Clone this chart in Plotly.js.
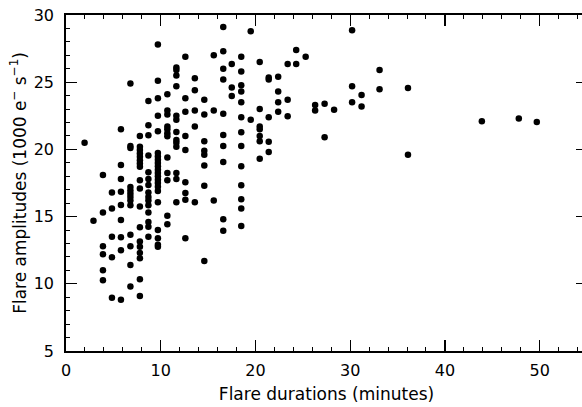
<!DOCTYPE html>
<html>
<head>
<meta charset="utf-8">
<script src="https://cdn.plot.ly/plotly-3.0.1.min.js"></script>
<style>
html, body { margin: 0; padding: 0; overflow: hidden; background: #fff; }
#chart { width: 588px; height: 407px; }
</style>
</head>
<body>
<div id="chart"></div>
<script>
// Flare durations (minutes), grouped by column
const durations = [
  1.96,
  2.9,
  3.9, 3.9, 3.9, 3.9, 3.9, 3.9,
  4.85, 4.85, 4.85, 4.85, 4.85,
  5.8, 5.8, 5.8, 5.8, 5.8, 5.8, 5.8, 5.8, 5.8,
  6.8, 6.8, 6.8, 6.8, 6.8, 6.8, 6.8, 6.8, 6.8, 6.8, 6.8, 6.8, 6.8,
  7.8, 7.8, 7.8, 7.8, 7.8, 7.8, 7.8, 7.8, 7.8, 7.8, 7.8, 7.8, 7.8, 7.8, 7.8, 7.8, 7.8, 7.8,
  8.7, 8.7, 8.7, 8.7, 8.7, 8.7, 8.7, 8.7, 8.7, 8.7, 8.7, 8.7, 8.7, 8.7, 8.7,
  9.7, 9.7, 9.7, 9.7, 9.7, 9.7, 9.7, 9.7, 9.7, 9.7, 9.7, 9.7, 9.7, 9.7, 9.7, 9.7, 9.7, 9.7, 9.7, 9.7, 9.7, 9.7,
  10.7, 10.7, 10.7, 10.7, 10.7, 10.7, 10.7, 10.7, 10.7, 10.7, 10.7, 10.7,
  11.65, 11.65, 11.65, 11.65, 11.65, 11.65, 11.65, 11.65, 11.65, 11.65, 11.65, 11.65, 11.65,
  12.6, 12.6, 12.6, 12.6, 12.6, 12.6, 12.6, 12.6, 12.6,
  13.6, 13.6, 13.6, 13.6, 13.6,
  14.6, 14.6, 14.6, 14.6, 14.6, 14.6, 14.6, 14.6,
  15.6, 15.6, 15.6,
  16.6, 16.6, 16.6, 16.6, 16.6, 16.6, 16.6, 16.6, 16.6, 16.6,
  17.5, 17.5, 17.5,
  18.5, 18.5, 18.5, 18.5, 18.5, 18.5, 18.5, 18.5, 18.5, 18.5, 18.5, 18.5, 18.5,
  19.5, 19.5,
  20.45, 20.45, 20.45, 20.45, 20.45, 20.45, 20.45,
  21.4, 21.4, 21.4, 21.4, 21.4,
  22.4, 22.4, 22.4, 22.4,
  23.4, 23.4, 23.4,
  24.3, 24.3,
  25.3,
  26.3, 26.3,
  27.3, 27.3,
  28.3,
  30.2, 30.2, 30.2,
  31.2, 31.2,
  33.1, 33.1,
  36.1, 36.1,
  43.9,
  47.8,
  49.7
];
// Flare amplitudes (1000 e- s-1), same order
const amplitudes = [
  20.5,
  14.7,
  18.1, 15.3, 12.8, 12.2, 11.0, 10.26,
  16.8, 15.6, 13.5, 11.97, 8.97,
  21.5, 18.84, 17.8, 16.85, 15.86, 14.75, 13.46, 12.5, 8.82,
  24.9, 20.25, 20.1, 17.2, 16.95, 16.7, 16.45, 16.2, 15.85, 13.65, 12.8, 11.4, 9.8,
  21.0, 20.2, 19.95, 19.7, 19.45, 19.2, 18.95, 18.7, 17.7, 17.1, 15.75, 14.2, 13.15, 12.75, 12.3, 11.9, 10.33, 9.1,
  23.6, 21.8, 21.05, 19.55, 18.3, 17.8, 17.35, 16.8, 16.45, 16.2, 15.85, 15.3, 14.6, 14.25, 13.5,
  27.8, 25.1, 23.8, 22.5, 21.35, 19.73, 19.48, 19.23, 18.99, 18.74, 18.49, 18.24, 18.0, 17.75, 17.5, 17.23, 16.9, 16.06, 14.0, 13.38, 12.9, 12.76,
  24.1, 22.9, 22.6, 21.7, 21.5, 21.2, 20.97, 19.4, 18.24, 17.7, 15.07, 14.43,
  26.1, 25.9, 25.5, 24.7, 22.5, 22.2, 21.3, 20.7, 20.5, 20.2, 18.24, 17.8, 16.06,
  26.9, 23.8, 22.8, 21.0, 19.95, 17.55, 16.75, 16.25, 13.38,
  25.3, 24.4, 22.9, 21.7, 16.06,
  23.7, 22.6, 20.6, 19.9, 19.6, 18.8, 17.3, 11.7,
  27.0, 22.9, 16.2,
  29.1, 27.3, 26.0, 25.2, 22.65, 21.07, 20.25, 19.06, 14.8, 13.95,
  26.35, 24.6, 23.97,
  26.9, 25.8, 24.77, 24.3, 23.5, 22.4, 21.27, 20.25, 18.74, 17.33, 16.3, 15.6, 14.3,
  28.8, 22.2,
  26.5, 23.0, 21.7, 21.5, 21.0, 20.6, 19.3,
  25.35, 25.2, 22.4, 20.57, 19.8,
  25.4, 24.3, 23.5, 22.8,
  26.35, 23.7, 22.46,
  27.4, 26.35,
  26.9,
  23.3, 22.9,
  23.4, 20.9,
  22.95,
  28.86, 24.7, 23.5,
  24.05, 23.2,
  25.9, 24.47,
  24.57, 19.6,
  22.1,
  22.3,
  22.04
];
const xTickVals = [0, 10, 20, 30, 40, 50];
const yTickVals = [5, 10, 15, 20, 25, 30];

const trace = {
  x: durations,
  y: amplitudes,
  type: 'scatter',
  mode: 'markers',
  marker: { color: '#000000', size: 6.5, line: { width: 0 } },
  hoverinfo: 'skip'
};

const axisCommon = {
  showgrid: false,
  zeroline: false,
  showline: true,
  linecolor: '#000',
  linewidth: 1.8,
  mirror: 'ticks',
  ticks: 'inside',
  ticklen: 11,
  tickwidth: 1.2,
  tickcolor: '#000',
  tickfont: { family: 'DejaVu Sans', size: 16, color: '#000' },
  automargin: false
};

const layout = {
  width: 588,
  height: 407,
  margin: { l: 66, r: 1, t: 15, b: 56 },
  paper_bgcolor: '#fff',
  plot_bgcolor: '#fff',
  showlegend: false,
  xaxis: Object.assign({}, axisCommon, {
    range: [0, 55],
    tickvals: xTickVals,
    ticktext: xTickVals.map(String),
    ticklabelstandoff: 4,
    minor: { dtick: 2, tick0: 0, ticks: 'inside', ticklen: 4, tickwidth: 1, tickcolor: '#000' },
    title: { text: 'Flare durations (minutes)', font: { family: 'DejaVu Sans', size: 17, color: '#000' }, standoff: 9 }
  }),
  yaxis: Object.assign({}, axisCommon, {
    range: [5, 30],
    tickvals: yTickVals,
    ticktext: yTickVals.map(String),
    ticklabelstandoff: 7,
    minor: { dtick: 1, tick0: 5, ticks: 'inside', ticklen: 4, tickwidth: 1, tickcolor: '#000' },
    title: { text: 'Flare amplitudes (1000 e<sup>−</sup> s<sup>−1</sup>)', font: { family: 'DejaVu Sans', size: 17, color: '#000' }, standoff: 3 }
  })
};

Plotly.newPlot('chart', [trace], layout, { staticPlot: true, displayModeBar: false });
</script>
</body>
</html>
